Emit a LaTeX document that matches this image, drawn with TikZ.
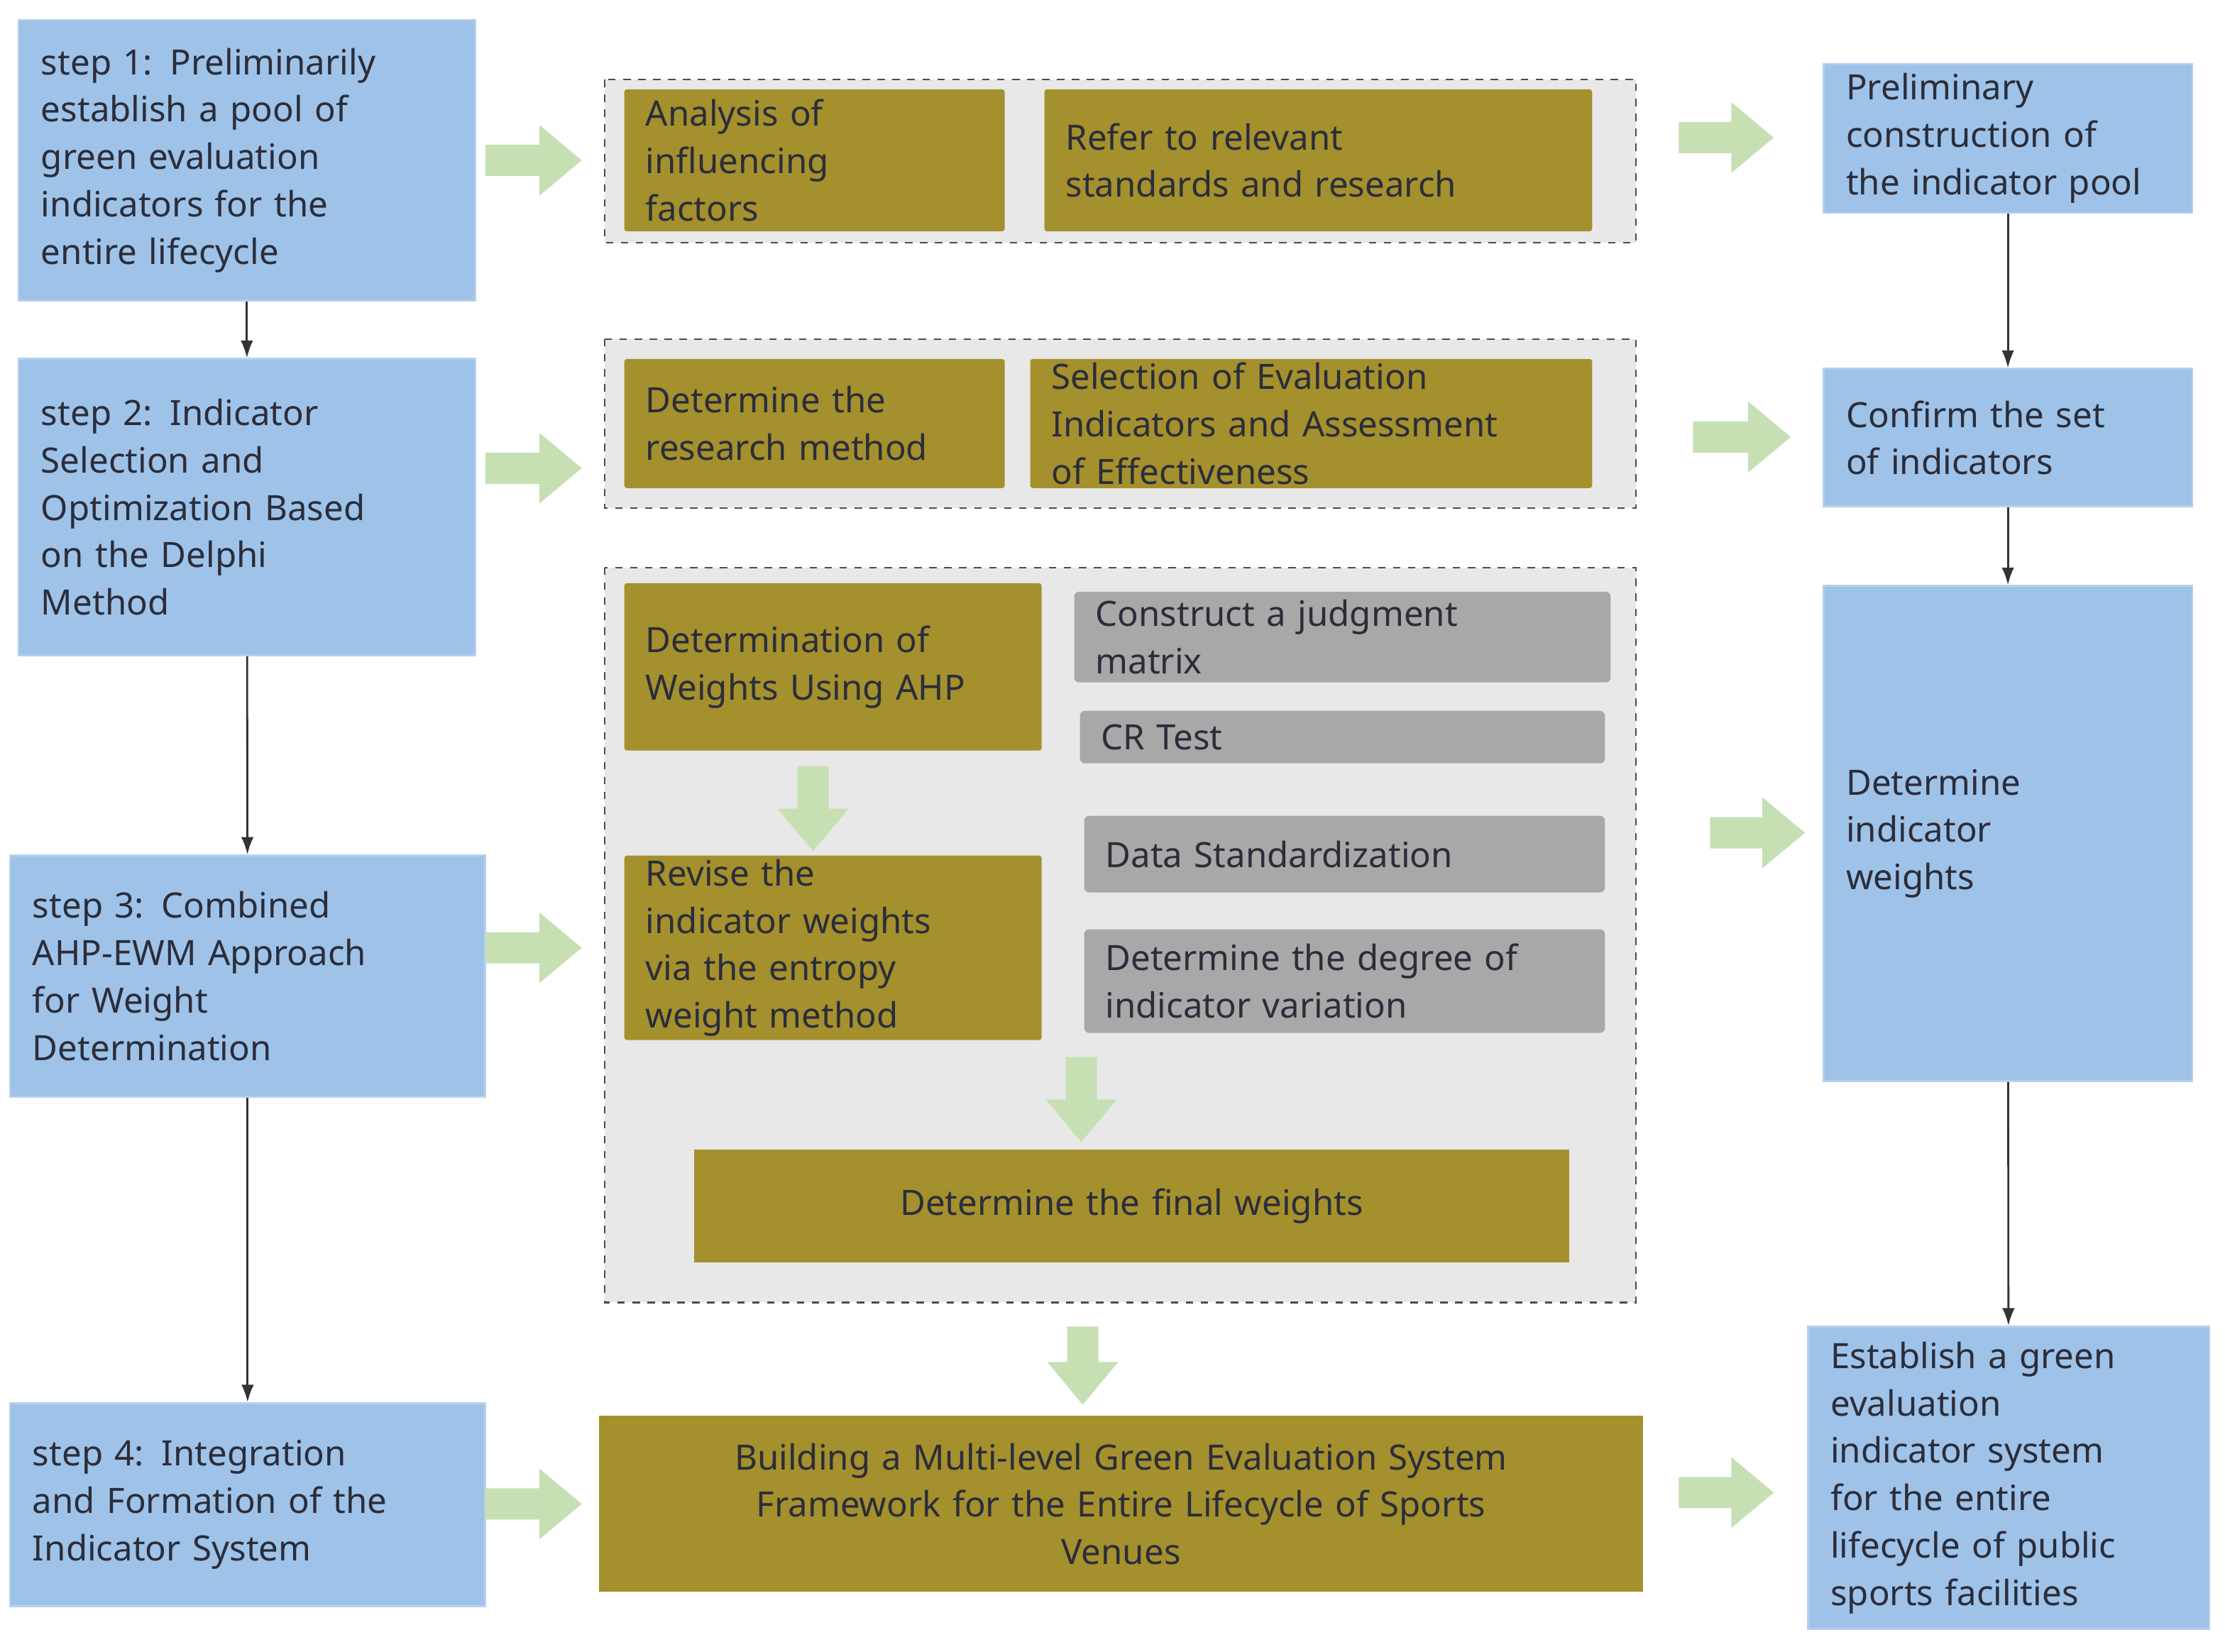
\documentclass[tikz,border=0pt]{standalone}
\usepackage{fontspec}
\setmainfont{Noto Sans}
\definecolor{bl}{HTML}{9FC2E8}
\definecolor{blb}{HTML}{B4D0EE}
\definecolor{ol}{HTML}{A4902C}
\definecolor{gr}{HTML}{A8A8A8}
\definecolor{bg}{HTML}{E8E8E8}
\definecolor{ga}{HTML}{C6E0B4}
\definecolor{tx}{HTML}{2B2D3A}
\newcommand{\bx}[8]{\node[#2,minimum width={(#5-#3)*0.02cm},minimum height={(#6-#4)*0.02cm},text width={(#5-#3)*0.02cm-2*#7}] (#1) at ({(#3+#5)/2},{(#4+#6)/2}) {#8};}
\newcommand{\garR}[3]{\fill[ga] (#1,#3-11)--(#2-30,#3-11)--(#2-30,#3-25)--(#2,#3)--(#2-30,#3+25)--(#2-30,#3+11)--(#1,#3+11)--cycle;}
\newcommand{\garD}[3]{\fill[ga] (#1-11,#2)--(#1-11,#3-30)--(#1-25,#3-30)--(#1,#3)--(#1+25,#3-30)--(#1+11,#3-30)--(#1+11,#2)--cycle;}
\begin{document}
\begin{tikzpicture}[x=0.02cm,y=-0.02cm,font=\fontsize{14}{19}\selectfont\bfseries,
 bbox/.style={draw=blb,line width=0.8pt,fill=bl,text=tx,align=left,inner xsep=0.32cm,inner ysep=0pt},
 obox/.style={fill=ol,text=tx,align=left,inner xsep=0.3cm,inner ysep=0pt,rounded corners=1pt},
 cbox/.style={fill=ol,text=tx,align=center,inner xsep=0.3cm,inner ysep=0pt},
 gbox/.style={fill=gr,text=tx,align=left,inner xsep=0.3cm,inner ysep=0pt,rounded corners=2pt},
 cont/.style={draw=black!70,dashed,fill=bg,line width=0.6pt},
 conn/.style={draw=black!80,line width=0.8pt,-{Latex[length=7pt,width=5pt]}}]
\useasboundingbox (0,0) rectangle (1568,1164);
\usetikzlibrary{arrows.meta}
\draw[cont] (426,56) rectangle (1153,171);
\draw[cont] (426,239) rectangle (1153,358);
\draw[cont] (426,400) rectangle (1153,918);
\bx{s1}{bbox}{13}{14}{335}{212}{0.32cm}{step 1: Preliminarily\\establish a pool of\\green evaluation\\indicators for the\\entire lifecycle}
\bx{s2}{bbox}{13}{253}{335}{462}{0.32cm}{step 2: Indicator\\Selection and\\Optimization Based\\on the Delphi\\Method}
\bx{s3}{bbox}{8}{603}{341}{773}{0.3cm}{step 3: Combined\\AHP-EWM Approach\\for Weight\\Determination}
\bx{s4}{bbox}{8}{989}{341}{1132}{0.3cm}{step 4: Integration\\and Formation of the\\Indicator System}
\bx{r1}{bbox}{1285}{45}{1545}{150}{0.32cm}{Preliminary\\construction of\\the indicator pool}
\bx{r2}{bbox}{1285}{260}{1545}{357}{0.32cm}{Confirm the set\\of indicators}
\bx{r3}{bbox}{1285}{413}{1545}{762}{0.32cm}{Determine\\indicator\\weights}
\bx{r4}{bbox}{1275}{935}{1556}{1148}{0.3cm}{Establish a green\\evaluation\\indicator system\\for the entire\\lifecycle of public\\sports facilities}
\bx{a1}{obox}{440}{63}{708}{163}{0.3cm}{Analysis of\\influencing\\factors}
\bx{a2}{obox}{736}{63}{1122}{163}{0.3cm}{Refer to relevant\\standards and research}
\bx{b1}{obox}{440}{253}{708}{344}{0.3cm}{Determine the\\research method}
\bx{b2}{obox}{726}{253}{1122}{344}{0.3cm}{Selection of Evaluation\\Indicators and Assessment\\of Effectiveness}
\bx{d1}{obox}{440}{411}{734}{529}{0.3cm}{Determination of\\Weights Using AHP}
\bx{d2}{obox}{440}{603}{734}{733}{0.3cm}{Revise the\\indicator weights\\via the entropy\\weight method}
\bx{g1}{gbox}{757}{417}{1135}{481}{0.3cm}{Construct a judgment\\matrix}
\bx{g2}{gbox}{761}{501}{1131}{538}{0.3cm}{CR Test}
\bx{g3}{gbox}{764}{575}{1131}{629}{0.3cm}{Data Standardization}
\bx{g4}{gbox}{764}{655}{1131}{728}{0.3cm}{Determine the degree of\\indicator variation}
\bx{fin}{cbox}{489}{810}{1106}{890}{0.3cm}{Determine the final weights}
\bx{big}{cbox}{422}{998}{1158}{1122}{0.3cm}{Building a Multi-level Green Evaluation System\\Framework for the Entire Lifecycle of Sports\\Venues}
\draw[conn] (s1) -- (s2);
\draw[conn] (s2) -- (s3);
\draw[conn] (s3) -- (s4);
\draw[conn] (r1) -- (r2);
\draw[conn] (r2) -- (r3);
\draw[conn] (r3) -- (r4);
\garR{342}{410}{113}
\garR{342}{410}{330}
\garR{342}{410}{668}
\garR{342}{410}{1060}
\garR{1183}{1250}{97}
\garR{1193}{1262}{308}
\garR{1205}{1272}{587}
\garR{1183}{1250}{1052}
\garD{573}{540}{600}
\garD{762}{745}{805}
\garD{763}{935}{990}
\end{tikzpicture}
\end{document}
